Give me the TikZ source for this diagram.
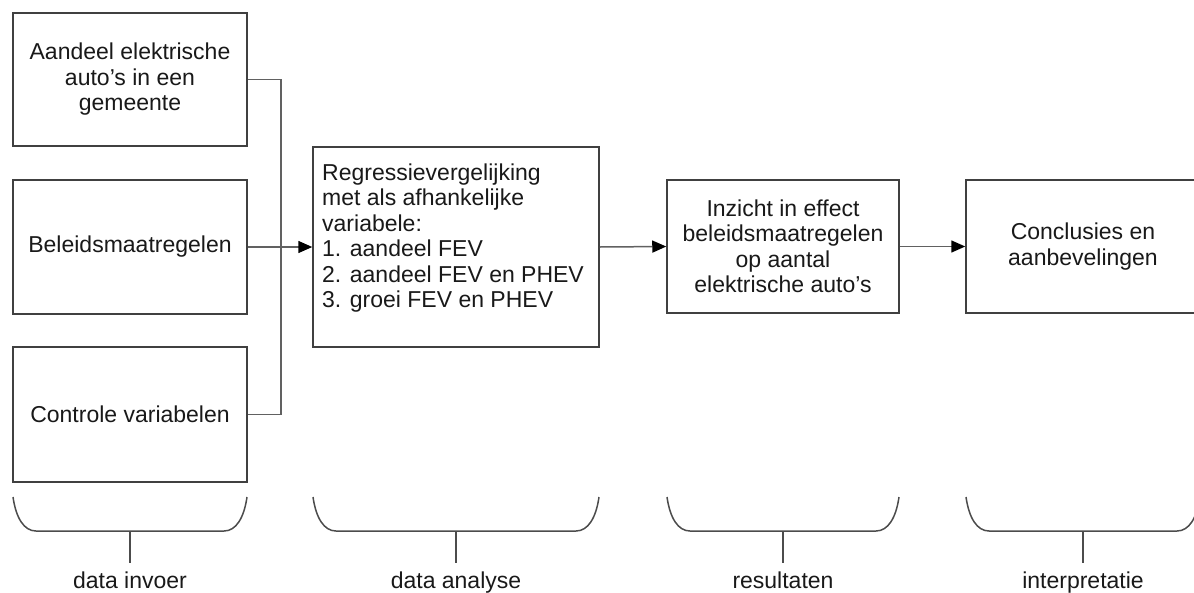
\documentclass[tikz,border=0pt]{standalone}
\usepackage{fontspec}
\setmainfont{Liberation Sans}
\usetikzlibrary{arrows.meta}
\begin{document}
\begin{tikzpicture}[x=1pt,y=-1pt,
  every node/.style={font=\fontsize{23}{25.5}\selectfont, text=black!90},
  box/.style={draw=black!75, line width=1.5pt, fill=white, align=center, inner sep=0pt},
  conn/.style={draw=black!62, line width=1.5pt},
  arr/.style={conn, -{Triangle[length=14pt,width=12pt,fill=black,color=black]}},
  brace/.style={draw=black!70, line width=1.5pt},
  lbl/.style={inner sep=0pt, anchor=base}
]
\useasboundingbox (0,0) rectangle (1194,592);
% left input boxes
\node[box, minimum width=234pt, minimum height=133pt] (b1) at (130,79.5) {Aandeel elektrische\\auto's in een\\gemeente};
\node[box, minimum width=234pt, minimum height=134pt] (b2) at (130,247) {Beleidsmaatregelen};
\node[box, minimum width=234pt, minimum height=135pt] (b3) at (130,414.5) {Controle variabelen};
% analysis
\node[box, minimum width=286pt, minimum height=200pt] (reg) at (456,247) {};
\node[anchor=west, align=left, inner sep=0pt] (regt) at (322,238) {Regressievergelijking\\met als afhankelijke\\variabele:\\1. aandeel FEV\\2. aandeel FEV en PHEV\\3. groei FEV en PHEV};
% results
\node[box, minimum width=232pt, minimum height=133pt] (ins) at (783,246.5) {Inzicht in effect\\beleidsmaatregelen\\op aantal\\elektrische auto's};
\node[box, minimum width=234pt, minimum height=133pt] (con) at (1083,246.5) {Conclusies en\\aanbevelingen};
% connectors
\coordinate (bus) at (281,247);
\draw[conn] (b1.east) -| (bus) |- (b3.east);
\draw[arr] (b2.east) -- (reg.west);
\draw[arr] (reg.east) -- (ins.west);
\draw[arr] (ins.east) -- (con.west);
% braces and labels
\foreach \l/\r/\m/\t/\n in {13/247/130/data invoer/l1, 313/599/456/data analyse/l2, 667/899/783/resultaten/l3, 966/1200/1083/interpretatie/l4}{
  \draw[brace] (\l,497) .. controls (\l+3,518) and (\l+11,531) .. (\l+23,531)
     -- (\r-23,531) .. controls (\r-11,531) and (\r-3,518) .. (\r,497);
  \draw[brace] (\m,531) -- (\m,563);
  \node[lbl] (\n) at (\m,588) {\t};
}
\end{tikzpicture}
\end{document}
